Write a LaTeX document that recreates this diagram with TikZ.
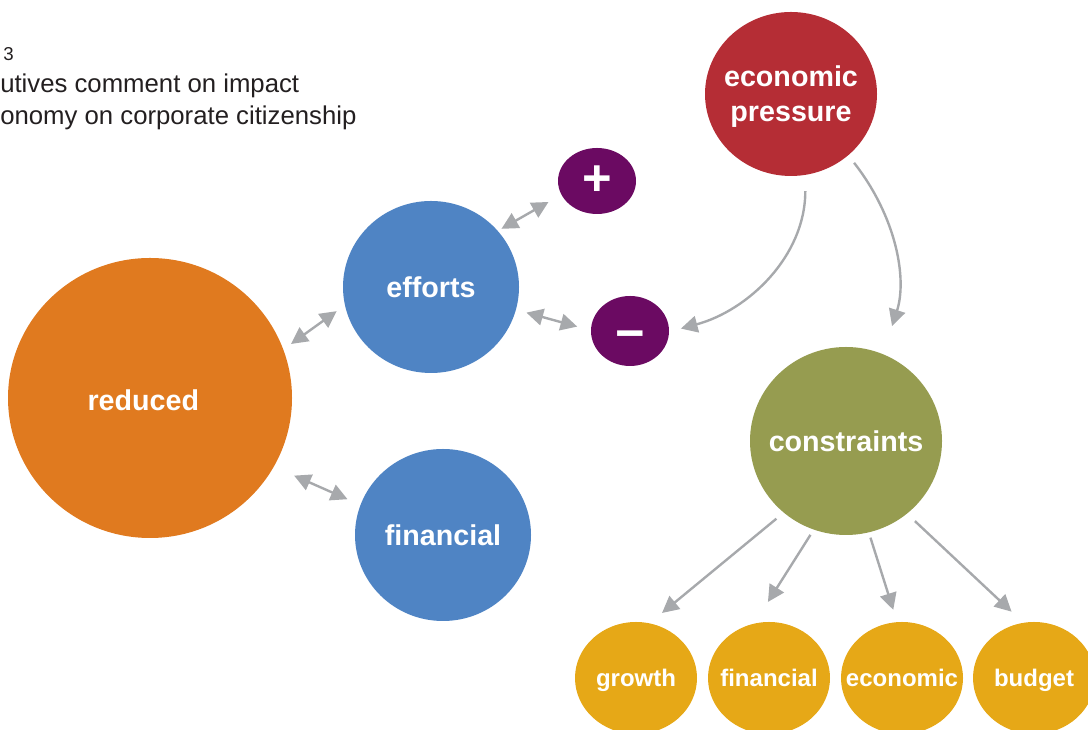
\documentclass[tikz,border=0pt]{standalone}
\usepackage{fontspec}
\setmainfont{Liberation Sans}
\usetikzlibrary{arrows.meta,shapes.geometric}
\definecolor{pressred}{RGB}{181,45,53}
\definecolor{signpurple}{RGB}{107,10,98}
\definecolor{effblue}{RGB}{79,132,196}
\definecolor{redorange}{RGB}{224,122,31}
\definecolor{consgreen}{RGB}{150,156,80}
\definecolor{leafgold}{RGB}{230,168,23}
\definecolor{linkgray}{RGB}{167,169,172}
\definecolor{titleink}{RGB}{35,31,32}
\begin{document}
\begin{tikzpicture}[x=0.75pt,y=0.75pt,
  bubble/.style={ellipse, inner sep=0pt, draw=none},
  lbl/.style={text=white, align=center, inner sep=0pt,
    font=\bfseries\fontsize{21.5}{26}\selectfont},
  slbl/.style={text=white, inner sep=0pt, text height=13pt, text depth=4pt,
    yshift=-2.25pt, font=\bfseries\fontsize{18}{22}\selectfont},
  sgn/.style={text=white, inner sep=0pt, font=\bfseries\fontsize{38}{40}\selectfont},
  title/.style={anchor=base west, inner sep=0pt, text=titleink,
    font=\fontsize{19.3}{24}\selectfont},
  link/.style={draw=linkgray, line width=1.8pt, -{Triangle[length=12.5pt,width=12.5pt]}},
  twoway/.style={draw=linkgray, line width=1.8pt,
    {Triangle[length=12.5pt,width=12.5pt]}-{Triangle[length=12.5pt,width=12.5pt]}},
]
\useasboundingbox (0,0) rectangle (1088,730);
\clip (0,0) rectangle (1088,730);

% heading
\node[title, font=\fontsize{14}{16}\selectfont] (fig) at (3,669) {3};
\node[title] (head1) at (0,637) {utives comment on impact};
\node[title] (head2) at (0,605) {onomy on corporate citizenship};

% bubbles
\node[bubble, fill=pressred, minimum width=129pt, minimum height=123pt,
  label={[lbl, yshift=-2pt]center:economic\\pressure}] (pressure) at (791,636) {};
\node[bubble, fill=signpurple, minimum width=58.5pt, minimum height=49.5pt,
  label={[sgn]center:+}] (plus) at (597,549) {};
\node[bubble, fill=signpurple, minimum width=58.5pt, minimum height=52.5pt,
  label={[sgn, yshift=-7pt]center:−}] (minus) at (630,399) {};
\node[bubble, fill=effblue, minimum width=132pt, minimum height=129pt,
  label={[lbl]center:efforts}] (efforts) at (431,443) {};
\node[bubble, fill=redorange, minimum width=213pt, minimum height=210pt,
  label={[lbl, xshift=-5pt, yshift=-2pt]center:reduced}] (reduced) at (150,332) {};
\node[bubble, fill=effblue, minimum width=132pt, minimum height=129pt,
  label={[lbl]center:financial}] (financial) at (443,195) {};
\node[bubble, fill=consgreen, minimum width=144pt, minimum height=141pt,
  label={[lbl]center:constraints}] (constraints) at (846,289) {};
\node[bubble, fill=leafgold, minimum width=91.5pt, minimum height=84pt,
  label={[slbl]center:growth}] (growth) at (636,52) {};
\node[bubble, fill=leafgold, minimum width=91.5pt, minimum height=84pt,
  label={[slbl]center:financial}] (fin2) at (769,52) {};
\node[bubble, fill=leafgold, minimum width=91.5pt, minimum height=84pt,
  label={[slbl]center:economic}] (econ) at (902,52) {};
\node[bubble, fill=leafgold, minimum width=91.5pt, minimum height=84pt,
  label={[slbl]center:budget}] (budget) at (1034,52) {};

% two-way links
\draw[twoway, shorten <=3pt, shorten >=11pt] (efforts.40) -- (plus.201);
\draw[twoway, shorten <=8pt, shorten >=10.5pt] (efforts.-15) -- (minus.179);
\draw[twoway, shorten <=7pt, shorten >=7.5pt] (reduced.20) -- (efforts.192);
\draw[twoway, shorten <=16.5pt, shorten >=10.5pt] (reduced.-29) -- (financial.160);

% pressure links
\draw[link, shorten <=12pt, shorten >=9pt] (pressure.280) to[out=-90, in=15] (minus.359);
\draw[link, shorten <=7pt, shorten >=22pt] (pressure.313) to[out=-52, in=72] (constraints.67);

% constraint fan-out
\draw[link, shorten <=7pt, shorten >=12pt] (constraints.229) -- (growth.76);
\draw[link, shorten <=4.5pt, shorten >=19pt] (constraints.250) -- (fin2.105);
\draw[link, shorten <=4pt, shorten >=9.5pt] (constraints.284) -- (econ.95);
\draw[link, shorten <=8pt, shorten >=12pt] (constraints.310) -- (budget.101);
\end{tikzpicture}
\end{document}
